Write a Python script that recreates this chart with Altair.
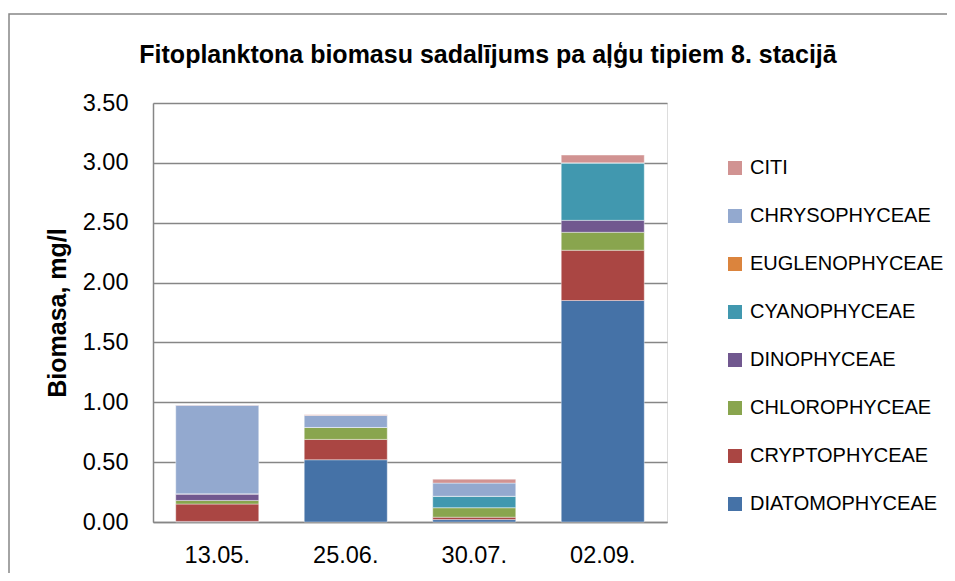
import altair as alt
import pandas as pd

dates = ["13.05.", "25.06.", "30.07.", "02.09."]
groups = ["DIATOMOPHYCEAE", "CRYPTOPHYCEAE", "CHLOROPHYCEAE", "DINOPHYCEAE",
          "CYANOPHYCEAE", "EUGLENOPHYCEAE", "CHRYSOPHYCEAE", "CITI"]
colors = ["#4572A7", "#AA4643", "#89A54E", "#71588F",
          "#4198AF", "#DB843D", "#93A9CF", "#D19392"]

diatomophyceae = [0.005, 0.52, 0.02, 1.85]
cryptophyceae = [0.145, 0.17, 0.02, 0.42]
chlorophyceae = [0.03, 0.10, 0.08, 0.15]
dinophyceae = [0.055, 0.0, 0.0, 0.10]
cyanophyceae = [0.0, 0.0, 0.095, 0.48]
euglenophyceae = [0.0, 0.0, 0.0, 0.0]
chrysophyceae = [0.74, 0.10, 0.11, 0.0]
citi = [0.003, 0.005, 0.033, 0.065]

series = [diatomophyceae, cryptophyceae, chlorophyceae, dinophyceae,
          cyanophyceae, euglenophyceae, chrysophyceae, citi]

TITLE = "Fitoplanktona biomasu sadalījums pa aļģu tipiem 8. stacijā"

rows = []
for gi, (g, vals) in enumerate(zip(groups, series)):
    for d, v in zip(dates, vals):
        rows.append({"date": d, "group": g, "value": v, "ord": gi})
df = pd.DataFrame(rows)

FONT = "Liberation Sans"
W, H = 514, 419

legend_order = groups[::-1]
legend_colors = colors[::-1]

bars = alt.Chart(df).mark_bar(stroke="white", strokeWidth=0.4).encode(
    x=alt.X("date:N", sort=dates, title=None,
            scale=alt.Scale(paddingInner=0.354, paddingOuter=0.177),
            axis=alt.Axis(labelAngle=0, labelFontSize=23.5, labelFont=FONT,
                          labelColor="black", ticks=False, labelPadding=21,
                          domainColor="#868686", domainWidth=1.5)),
    y=alt.Y("value:Q", stack="zero", title="Biomasa, mg/l",
            scale=alt.Scale(domain=[0, 3.5], nice=False),
            axis=alt.Axis(values=[0, 0.5, 1, 1.5, 2, 2.5, 3, 3.5], format=".2f",
                          labelFontSize=23.5, labelFont=FONT, labelColor="black",
                          ticks=False, labelPadding=25,
                          domainColor="#868686", domainWidth=1.5,
                          gridColor="#868686", gridWidth=1.5,
                          titleFont=FONT, titleFontSize=25, titleFontWeight="bold",
                          titleColor="black", titlePadding=12)),
    color=alt.Color("group:N",
                    scale=alt.Scale(domain=legend_order, range=legend_colors),
                    legend=alt.Legend(title=None, orient="none", legendX=572, legendY=55,
                                      symbolType="square", symbolSize=196,
                                      symbolStrokeWidth=0,
                                      labelFont=FONT, labelFontSize=20,
                                      labelColor="black", rowPadding=28,
                                      labelOffset=5, labelLimit=0)),
    order=alt.Order("ord:Q", sort="ascending"),
)

border = alt.Chart(pd.DataFrame({"a": [0]})).mark_rect(
    fill=None, stroke="#868686", strokeWidth=1.5, clip=False
).encode(
    x=alt.value(-144), x2=alt.value(W + 400),
    y=alt.value(-89), y2=alt.value(H + 300),
)

title = alt.Chart(pd.DataFrame({"a": [0]})).mark_text(
    font=FONT, fontSize=25, fontWeight="bold", color="black",
    align="center", baseline="middle"
).encode(
    x=alt.value(335), y=alt.value(-48), text=alt.value(TITLE),
)

chart = alt.layer(border, bars, title).properties(
    width=W, height=H,
    autosize=alt.AutoSizeParams(type="none"),
    padding={"left": 145, "top": 95, "right": 280, "bottom": 51},
).configure_view(stroke=None).configure(background="white")

chart.save("out.html", embed_options={"renderer": "svg", "actions": False})
